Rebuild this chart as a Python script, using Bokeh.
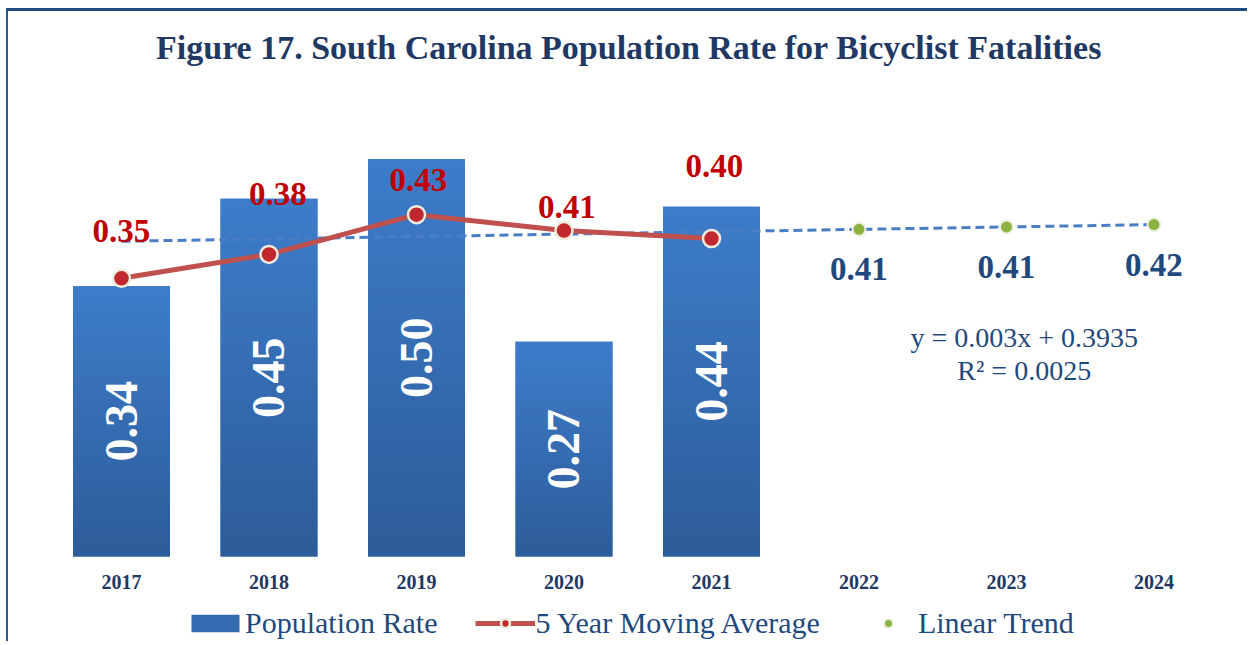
import math
from bokeh.plotting import figure
from bokeh.models import Legend, LegendItem, Label, Range1d
from bokeh.core.properties import value
from bokeh.embed import file_html
from bokeh.resources import INLINE

# ---------------- data ----------------
years = ["2017", "2018", "2019", "2020", "2021", "2022", "2023", "2024"]
population_rate = [0.34, 0.45, 0.50, 0.27, 0.44]          # 2017-2021 bars
moving_average = [0.35, 0.38, 0.43, 0.41, 0.40]           # 2017-2021 line
trend_line = [0.3965, 0.3995, 0.4025, 0.4055, 0.4085, 0.4115, 0.4145, 0.4175]  # 2017-2024
trend_points = [0.4115, 0.4145, 0.4175]                   # 2022-2024 markers
trend_point_labels = ["0.41", "0.41", "0.42"]
equation_text = "y = 0.003x + 0.3935"
r2_text = "R² = 0.0025"
title_text = "Figure 17. South Carolina Population Rate for Bicyclist Fatalities"

# ---------------- styles ----------------
SERIF = "Liberation Serif"
NAVY = "#1F3864"
NAVY2 = "#1F497D"
RED_TXT = "#C00000"
BAR_TOP = (61, 124, 201)
BAR_BOT = (45, 92, 154)
ma_label_dx = [0, 9, 2, 3, 3]
ma_label_dy = [-47, -60, -35, -24, -73]

n_all = len(years)
xs_all = list(range(n_all))
n_bar = len(population_rate)
xs_bar = xs_all[:n_bar]
xs_trend_pts = xs_all[n_bar:]

W, H = 1241, 633
p = figure(width=W, height=H, output_backend="svg", toolbar_location=None,
           x_range=Range1d(-0.7661, 7.6475), y_range=Range1d(-0.11069, 0.60881),
           x_axis_location=None, y_axis_location=None,
           min_border_left=0, min_border_right=0, min_border_top=61, min_border_bottom=0)
p.outline_line_color = None
p.xgrid.visible = False
p.ygrid.visible = False
p.background_fill_color = "white"
p.border_fill_color = "white"
p.styles = {"border-top": "3px solid #1F4A80", "border-left": "2px solid #2F5597",
            "margin-left": "6px", "margin-top": "8px"}

# title
p.title.text = title_text
p.title.align = "center"
p.title.text_font = SERIF
p.title.text_font_style = "bold"
p.title.text_font_size = "34px"
p.title.text_color = NAVY
p.title.standoff = 14

# category labels under the bars
p.text(x=xs_all, y=[0] * n_all, text=years, y_offset=25,
       text_font=value(SERIF), text_font_style="bold", text_font_size="20px",
       text_color=NAVY, text_align="center", text_baseline="middle")

# bars: solid base + vertical gradient slices
bw = 0.657
bars = p.vbar(x=xs_bar, top=population_rate, width=bw, fill_color="#3569B0",
              line_color=None)
N = 40
gl, gr, gb, gt, gc = [], [], [], [], []
for x, v in zip(xs_bar, population_rate):
    for k in range(N):
        f = k / (N - 1)
        r = round(BAR_BOT[0] + (BAR_TOP[0] - BAR_BOT[0]) * f)
        g = round(BAR_BOT[1] + (BAR_TOP[1] - BAR_BOT[1]) * f)
        b = round(BAR_BOT[2] + (BAR_TOP[2] - BAR_BOT[2]) * f)
        gl.append(x - bw / 2)
        gr.append(x + bw / 2)
        gb.append(v * k / N)
        gt.append(v * (k + 1) / N + (0 if k == N - 1 else v * 0.002))
        gc.append("#%02x%02x%02x" % (r, g, b))
p.quad(left=gl, right=gr, bottom=gb, top=gt, fill_color=gc, line_color=None)

# bar value labels (rotated, white)
p.text(x=xs_bar, y=[v / 2 for v in population_rate],
       text=["%.2f" % v for v in population_rate], angle=math.pi / 2,
       text_font=value(SERIF), text_font_style="bold", text_font_size="46px",
       text_color="white", text_align="center", text_baseline="middle")

# linear trend dashed line
p.line(x=xs_all, y=trend_line, line_color="#4A7EC4", line_width=3, line_dash="9 5")

# moving average
ma_line = p.line(x=xs_bar, y=moving_average, line_color="#C0504D", line_width=5)
ma_pts = p.scatter(x=xs_bar, y=moving_average, size=17, fill_color="#C0282D",
                   line_color="#EFEBDD", line_width=2.5)

# trend markers
tr_pts = p.scatter(x=xs_trend_pts, y=trend_points, size=13, fill_color="#8CB23F",
                   line_color="#EEF0E0", line_width=2)

# moving average labels
p.text(x=xs_bar, y=moving_average, text=["%.2f" % v for v in moving_average],
       x_offset=ma_label_dx, y_offset=ma_label_dy,
       text_font=value(SERIF), text_font_style="bold", text_font_size="33px",
       text_color=RED_TXT, text_align="center", text_baseline="middle")

# trend labels
p.text(x=xs_trend_pts, y=trend_points, text=trend_point_labels, y_offset=40,
       text_font=value(SERIF), text_font_style="bold", text_font_size="33px",
       text_color=NAVY2, text_align="center", text_baseline="middle")

# equation
for txt, yy in [(equation_text, 0.2755), (r2_text, 0.234)]:
    p.add_layout(Label(x=6.12, y=yy, text=txt, text_font=SERIF, text_font_size="28px",
                       text_color=NAVY2, text_align="center", text_baseline="middle"))

# legend
legend = Legend(items=[
    LegendItem(label="Population Rate", renderers=[bars]),
    LegendItem(label="5 Year Moving Average", renderers=[ma_line, ma_pts]),
    LegendItem(label="Linear Trend", renderers=[tr_pts]),
], orientation="horizontal", location=(177, 4), glyph_width=60, glyph_height=22,
   label_standoff=0, spacing=38, padding=0, margin=0, border_line_color=None,
   background_fill_alpha=0, label_text_font=SERIF, label_text_font_size="30px",
   label_text_color=NAVY2)
p.add_layout(legend)

open("out.html", "w").write(file_html(p, INLINE))
